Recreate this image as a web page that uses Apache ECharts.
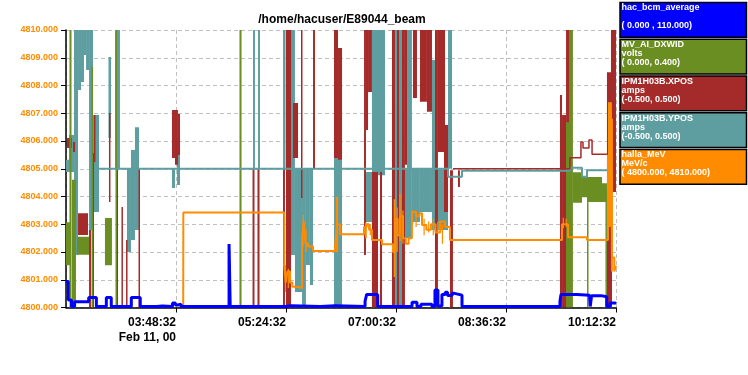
<!DOCTYPE html>
<html><head><meta charset="utf-8">
<script src="https://cdn.jsdelivr.net/npm/echarts@6/dist/echarts.min.js"></script>
<style>html,body{margin:0;padding:0;background:#fff}#c{width:748px;height:375px}</style>
</head><body><div id="c"></div>
<script>
// ---- text / ticks ----
const chartTitle = '/home/hacuser/E89044_beam';
const xTickLabels = ['02:12:32','03:48:32','05:24:32','07:00:32','08:36:32','10:12:32']; // minutes 0..480 step 96
const dateLabel = 'Feb 11, 00';
const names = ['hac_bcm_average','MV_AI_DXWID','IPM1H03B.XPOS','IPM1H03B.YPOS','halla_MeV'];
const units = ['', 'volts', 'amps', 'amps', 'MeV/c'];
const rangeMin = [0, 0, -0.5, -0.5, 4800];
const rangeMax = [110, 0.4, 0.5, 0.5, 4810];
const rangeText = ['( 0.000 , 110.000)', '( 0.000, 0.400)', '(-0.500, 0.500)', '(-0.500, 0.500)', '( 4800.000, 4810.000)'];
const colors = ['#0000ff','#6b8e23','#a52a2a','#5f9ea0','#ff8c00'];

// ---- data: time in minutes after 02:12:32 ----
// hac_bcm_average [t, value]
const bcmLine = [[0,10.3],[2.0,3.0],[4.8,0.4],[7.5,2.3],[19.8,4.0],[26.5,0.4],[35.2,4.0],[39.5,0.4],[57,4.0],[64.8,0.4],[79,0.6],[84,0.4],[93,1.8],[95.5,1.0],[97.5,1.3],[100.4,0.4],[142.3,25.2],[143.3,0.4],[166.5,0.9],[167.8,0.4],[191,0.7],[197,0.4],[222,0.7],[235,0.4],[261,2.5],[262.4,5.2],[272,0.4],[302,2.1],[306.3,0.4],[309.8,1.3],[319.4,0.4],[322,6.9],[324.6,0.6],[328.1,5.2],[331,6.0],[333,4.8],[337,5.6],[339,4.9],[345.6,0.4],[431.1,2.5],[432,5.2],[446,4.9],[456.9,4.7],[457.5,0.4],[458.7,4.7],[467,4.3],[471.9,0.4],[474.8,1.8],[479.1,1.5],[480,1.5]];
// MV_AI_DXWID dense ranges [t1, t2, low, high]
const dxwidBands = [[0,3.5,0.061,0.123],[3.05,4.8,0,0.4],[5.2,8.7,0,0.184],[9.6,20.1,0.076,0.102],[22.3,23.6,0,0.347],[34.0,40.1,0.061,0.129],[43.2,44.5,0,0.4],[151.4,153.2,0,0.4],[436.4,439.0,0,0.267],[439.0,442.4,0,0.4],[442.4,450.3,0.151,0.195],[450.3,454.7,0.159,0.188],[454.7,467.8,0.152,0.188],[467.8,472.1,0.152,0.179],[454.7,456.0,0,0.169],[470.8,472.1,0,0.169]];
// IPM1H03B.XPOS
const xposBands = [[0.87,5.2,0.075,0.111],[6.1,7.9,0.060,0.096],[10.5,19.2,-0.239,-0.16],[20.1,21.8,-0.5,-0.221],[22.7,24.4,-0.5,0.057],[24.4,25.7,0.024,0.194],[37.5,38.8,-0.120,0.201],[44.1,45.4,-0.5,0],[48.4,49.7,-0.5,-0.138],[52.4,53.7,-0.5,-0.257],[63.3,64.6,-0.5,0],[92.5,95.1,0.039,0.212],[95.1,97.7,0.014,0.212],[97.7,99.5,0.050,0.197],[162.8,164.5,-0.5,0],[167.1,168.9,-0.5,0],[189.4,191.1,-0.5,0],[192.0,196.4,-0.5,0.5],[198.1,202.5,0.039,0.237],[205.1,206.4,-0.105,0.5],[215.6,217.3,0,0.5],[233.9,237.4,0.039,0.5],[237.4,240.9,0.032,0.435],[260.1,261.8,-0.311,0.5],[261.8,263.6,0.140,0.5],[263.6,267.0,0.277,0.5],[267.0,272.3,-0.5,-0.012],[274.0,275.8,-0.5,-0.012],[284.5,287.1,-0.5,0.5],[288.9,290.6,-0.5,0.5],[293.2,295.8,-0.5,0.5],[295.8,297.6,0.014,0.5],[302.8,306.3,0.255,0.5],[308.9,315.0,0.241,0.5],[315.0,319.4,0.205,0.5],[322.0,324.6,-0.5,0.5],[324.6,330.8,0.060,0.5],[329.9,333.4,-0.156,0.158],[335.1,337.7,-0.5,-0.005],[342.1,343.8,-0.066,-0.005],[431.1,432.9,-0.5,0.266],[432.9,436.4,-0.5,0.194],[436.4,439.8,-0.5,0.5],[472.1,476.5,-0.5,0.348],[475.6,480,-0.084,0.5]];
const xposLine = [[337.7,0.0],[439.8,0.040],[449.4,0.096],[451.2,0.075],[456.4,0.104],[459.1,0.052],[472.1,0.052]];
// IPM1H03B.YPOS
const yposBands = [[0,2.6,-0.012,0.032],[2.6,7.0,-0.012,0.122],[7.0,10.5,-0.311,0.5],[10.5,13.1,0.284,0.5],[13.1,15.7,0.313,0.5],[15.7,17.5,0.410,0.5],[17.5,20.1,0.356,0.5],[20.1,23.6,-0.221,0.5],[23.6,28.8,-0.156,0.194],[37.1,39.3,0.111,0.403],[42.8,47.1,0.003,0.5],[53.2,56.7,-0.3,0.0],[56.7,60.2,-0.257,0.068],[60.2,63.7,-0.221,0.150],[92.5,95.1,-0.069,0.0],[96.9,99.5,-0.059,0.111],[163.2,164.9,0,0.5],[167.6,169.3,0,0.5],[189.4,191.6,0,0.5],[195.5,199.8,-0.311,0.5],[199.8,206.0,-0.444,0],[206.0,209.4,-0.491,0],[209.4,212.9,-0.347,0],[212.9,215.6,-0.419,0],[233.9,240.9,-0.491,0.042],[260.9,267.0,-0.192,-0.012],[267.0,278.4,-0.023,0.5],[284.5,287.1,-0.491,0.241],[287.1,293.2,-0.491,0.5],[294.1,301.9,-0.25,0],[301.9,308.9,-0.192,0],[308.9,319.4,-0.156,0],[319.4,333.4,-0.221,0],[297.6,301.9,0,0.5],[319.4,322.0,0,0.392],[333.4,336.9,0,0.5],[431.1,439.8,0.003,0.150],[475.6,479.1,0.158,0.241]];
const yposLine = [[27.1,0.0],[333.4,-0.029],[345.6,-0.007],[439.8,0.004],[450.3,-0.029],[454.7,-0.005],[473,-0.005]];
// halla_MeV
const hallaLine = [[102.3,4800.0],[102.4,4803.42],[190.5,4801.5],[191.8,4800.9],[193.2,4801.3],[195.5,4800.9],[197.5,4800.75],[201.6,4800.7],[206.0,4802.49],[207.5,4803.1],[209,4802.3],[211.2,4802.2],[215.6,4802.04],[234.8,4802.2],[236.5,4803.0],[239.1,4802.64],[260.1,4802.9],[262.5,4803.0],[264.5,4802.8],[267.0,4802.43],[275.8,4802.28],[285.4,4802.0],[287.5,4803.2],[289.5,4802.6],[291.5,4803.3],[294.1,4802.5],[296.5,4802.3],[299,4802.5],[301.9,4803.45],[305.5,4803.3],[308.5,4803.4],[310.7,4802.97],[314.5,4802.8],[318.5,4803.0],[322.5,4802.7],[326.5,4803.1],[330.8,4802.9],[335.1,4802.43],[432.9,4803.0],[438.1,4802.53],[454.7,4802.43],[473.0,4805.5],[474.5,4803.2],[475.5,4807.4],[476.5,4801.8],[478.5,4801.3],[480,4801.5]];
const hallaBands = [[191,192,4800.56,4801.53],[193.5,194.5,4800.7,4801.4],[206.5,207.5,4802.2,4803.33],[209,210,4802.0,4802.8],[235.5,237.5,4802.0,4803.98],[261,262.5,4802.5,4803.05],[265,266,4802.6,4803.0],[286,287.5,4801.1,4803.9],[288.5,289.5,4802.0,4803.6],[291,292,4802.4,4804.1],[293.5,294.5,4802.3,4803.5],[302,303,4803.0,4803.5],[305,306,4802.9,4803.45],[312,313,4802.6,4803.2],[316,317,4802.7,4803.1],[320,321,4802.6,4803.2],[324,325,4802.7,4803.1],[328,329,4802.3,4803.0],[433.5,434.5,4802.86,4803.23],[436,437,4802.9,4803.2],[473.0,475.6,4802.9,4807.4],[475.6,477.3,4801.3,4806.8]];

// ---- chart ----
const FONT = 'Liberation Sans';
function bandSeries(data, axis, color) {
  return {type:'custom', yAxisIndex:axis, data, clip:true, silent:true, animation:false,
    encode:{x:[0,1], y:[2,3]},
    renderItem(params, api) {
      const a = api.coord([api.value(0), api.value(3)]);
      const b = api.coord([api.value(1), api.value(2)]);
      return {type:'rect', shape:{x:a[0], y:a[1], width:Math.max(b[0]-a[0],1.2), height:Math.max(b[1]-a[1],1)}, style:{fill:color}};
    }};
}
function lineSeries(data, axis, color, w) {
  return {type:'line', yAxisIndex:axis, data, step:'end', showSymbol:false, symbol:'none', clip:true, silent:true,
    lineStyle:{color, width:w}, itemStyle:{color}, animation:false};
}
const yAxes = names.map((n, i) => ({
  type:'value', min:rangeMin[i], max:rangeMax[i], show: i === 4,
  interval: i === 4 ? 1 : undefined, position:'left',
  axisLine:{show:true, lineStyle:{color:'#000', width:1.5}},
  axisTick:{show:true, length:5, lineStyle:{color:'#000'}},
  axisLabel:{color:'#ff8c00', fontWeight:'bold', fontSize:9, fontFamily:FONT, margin:8, formatter:v => v.toFixed(3)},
  splitLine:{show:true, lineStyle:{color:'#c0c0c0', type:[4,3], width:1}}
}));
const graphics = [{type:'text', x:342, y:20, style:{text:chartTitle, font:'bold 12px ' + FONT, fill:'#000', textAlign:'center', textVerticalAlign:'middle'}}];
names.forEach((n, i) => {
  const top = 2.5 + i * 36.75;
  graphics.push({type:'rect', shape:{x:620, y:top, width:126.5, height:34.7}, style:{fill:colors[i], stroke:'#000', lineWidth:1.5}});
  [n, units[i], rangeText[i]].forEach((s, k) => {
    if (s) graphics.push({type:'text', x:621.5, y:top + 5.5 + 9 * k, style:{text:s, font:'bold 9px ' + FONT, fill:'#fff', textVerticalAlign:'middle'}});
  });
});
const chart = echarts.init(document.getElementById('c'));
chart.setOption({
  animation:false,
  backgroundColor:'#fff',
  grid:{left:66, top:30, width:550, height:277.5, containLabel:false},
  xAxis:{type:'value', min:0, max:480, interval:96,
    axisLine:{onZero:false, lineStyle:{color:'#000', width:1.5}},
    axisTick:{length:5, lineStyle:{color:'#000'}},
    axisLabel:{showMinLabel:false, align:'right', color:'#000', fontWeight:'bold', fontSize:12, fontFamily:FONT, lineHeight:15.6, margin:7,
      formatter:v => { const i = Math.round(v / 96); return i === 1 ? xTickLabels[i] + '\n' + dateLabel : xTickLabels[i]; }},
    splitLine:{show:true, lineStyle:{color:'#c0c0c0', type:[4,3], width:1}}},
  yAxis:yAxes,
  series:[
    bandSeries(yposBands, 3, colors[3]),
    lineSeries(yposLine, 3, colors[3], 2),
    bandSeries(xposBands, 2, colors[2]),
    lineSeries(xposLine, 2, colors[2], 1.5),
    bandSeries(dxwidBands, 1, colors[1]),
    bandSeries(hallaBands, 4, colors[4]),
    lineSeries(hallaLine, 4, colors[4], 2),
    lineSeries(bcmLine, 0, colors[0], 3)
  ],
  graphic:graphics
});
</script></body></html>
